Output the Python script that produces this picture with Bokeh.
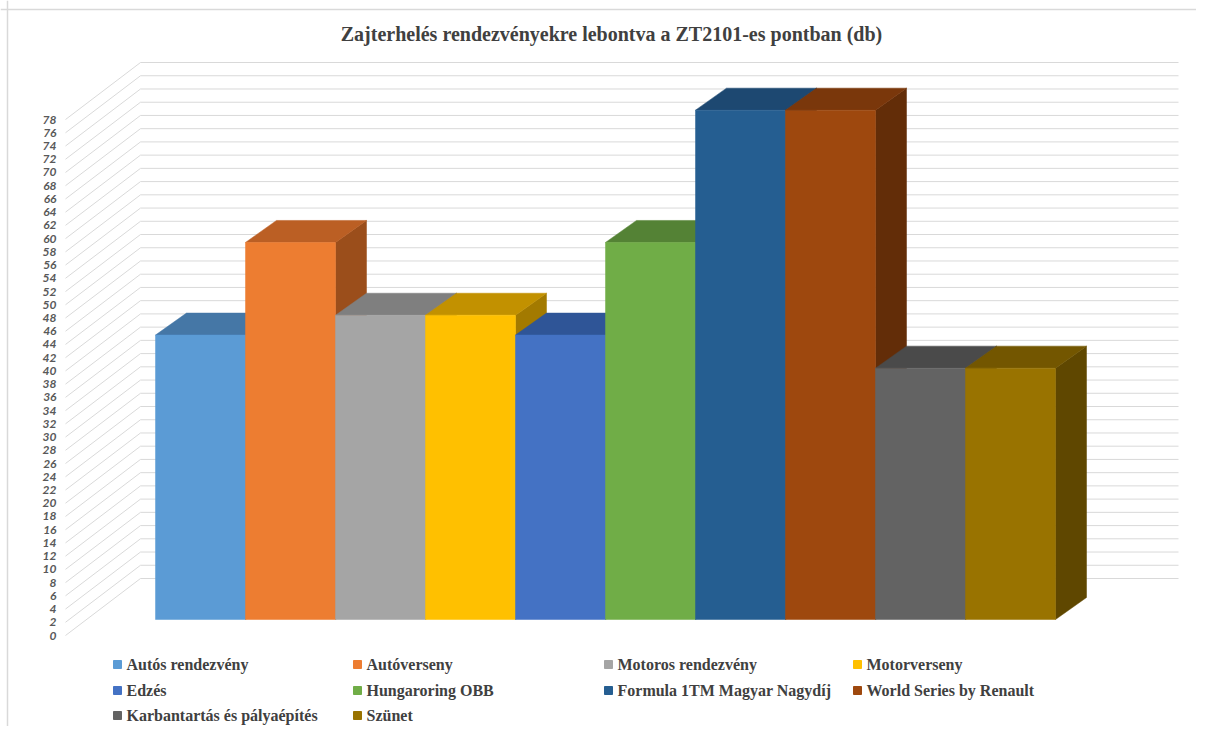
from bokeh.plotting import figure
from bokeh.models import Range1d, ColumnDataSource, Span
from bokeh.embed import file_html
from bokeh.resources import INLINE
from bokeh.core.properties import value

# ---------------- data ----------------
title_text = "Zajterhelés rendezvényekre lebontva a ZT2101-es pontban (db)"
categories = ["Autós rendezvény", "Autóverseny", "Motoros rendezvény", "Motorverseny",
              "Edzés", "Hungaroring OBB", "Formula 1TM Magyar Nagydíj",
              "World Series by Renault", "Karbantartás és pályaépítés", "Szünet"]
values = [43, 57, 46, 46, 43, 57, 77, 77, 38, 38]
front_colors = ["#5B9BD5", "#ED7D31", "#A5A5A5", "#FFC000", "#4472C4",
                "#70AD47", "#255E91", "#9E480E", "#636363", "#997300"]
top_colors = ["#4577A6", "#BB5F24", "#7F7F7F", "#C29100", "#2F5597",
              "#548235", "#1D4871", "#7A370B", "#4A4A4A", "#735600"]
side_colors = ["#36608A", "#9B4E1B", "#686868", "#A37A00", "#284A87",
               "#466E2C", "#183B5D", "#632D08", "#3D3D3D", "#5F4700"]
y_ticks = list(range(0, 80, 2))
y_tick_labels = [str(t) for t in y_ticks]

# ---------------- layout (screenshot pixels -> data) ----------------
W, H = 1196, 726
ORIGIN_X, ORIGIN_Y = 0, 0        # where the figure lands in the screenshot
BAR_X0, BAR_W = 155, 90          # x of first bar, bar width in px
Y0_PX, PX_PER_UNIT = 635, 6.615  # y of value 0 on the label plane


def px2x(px):
    return (px - BAR_X0) / BAR_W


def py2y(py):
    return (Y0_PX - py) / PX_PER_UNIT


x_range = Range1d(px2x(ORIGIN_X), px2x(ORIGIN_X + W))
y_range = Range1d(py2y(ORIGIN_Y + H), py2y(ORIGIN_Y))

p = figure(width=W, height=H, x_range=x_range, y_range=y_range,
           output_backend="svg", toolbar_location=None, min_border=0,
           background_fill_color="white", border_fill_color="white")
p.axis.visible = False
p.grid.visible = False
p.outline_line_color = None

# frame border (top & left)
p.add_layout(Span(location=px2x(7), dimension="height", line_color="#d9d9d9", line_width=1.5))
p.add_layout(Span(location=py2y(9), dimension="width", line_color="#d9d9d9", line_width=1.5))

# ---------------- walls / gridlines ----------------
wall_front_x = px2x(65)
wall_back_x = px2x(140)
wall_end_x = px2x(1178)
wall_dy = 57 / PX_PER_UNIT
gxs, gys = [], []
for t in y_ticks:
    gxs.append([wall_front_x, wall_back_x, wall_end_x])
    gys.append([t, t + wall_dy, t + wall_dy])
p.multi_line(xs=gxs, ys=gys, line_color="#d9d9d9", line_width=1)

# y tick labels
p.text(x=[px2x(56)] * len(y_ticks), y=y_ticks, text=y_tick_labels,
       text_align="right", text_baseline="middle",
       text_font=value("Lato"), text_font_style="bold italic",
       text_font_size="12px", text_color="#595959")

# ---------------- 3D bars ----------------
base = (Y0_PX - 619) / PX_PER_UNIT   # bars sit deeper than label plane
ddx = 31 / BAR_W
ddy = 22 / PX_PER_UNIT
pxs, pys, pcol = [], [], []
for i, v in enumerate(values):
    l, r = i, i + 1
    b, t = base, base + v
    # side face
    pxs.append([r, r, r + ddx, r + ddx]); pys.append([b, t, t + ddy, b + ddy]); pcol.append(side_colors[i])
    # top face
    pxs.append([l, r, r + ddx, l + ddx]); pys.append([t, t, t + ddy, t + ddy]); pcol.append(top_colors[i])
    # front face
    pxs.append([l, r, r, l]); pys.append([b, b, t, t]); pcol.append(front_colors[i])
src = ColumnDataSource(dict(xs=pxs, ys=pys, color=pcol))
p.patches(xs="xs", ys="ys", fill_color="color", line_color="color", line_width=0.5, source=src)

# ---------------- title ----------------
p.text(x=[px2x(611)], y=[py2y(33)], text=[title_text], text_align="center",
       text_baseline="middle", text_font=value("Liberation Serif"),
       text_font_style="bold", text_font_size="20px", text_color="#404040")

# ---------------- legend ----------------
col_px = [117, 357, 608, 857]
row_py = [664, 690, 715]
lx, ly, tx = [], [], []
for k in range(len(categories)):
    c, r = k % 4, k // 4
    lx.append(px2x(col_px[c]))
    ly.append(py2y(row_py[r]))
    tx.append(px2x(col_px[c] + 9))
leg = ColumnDataSource(dict(x=lx, y=ly, tx=tx, label=categories, color=front_colors))
p.scatter(x="x", y="y", marker="square", size=8, fill_color="color", line_color="color", source=leg)
p.text(x="tx", y="y", text="label", text_align="left", text_baseline="middle",
       text_font=value("Liberation Serif"), text_font_style="bold",
       text_font_size="16px", text_color="#404040", source=leg)

open("out.html", "w").write(file_html(p, INLINE))
